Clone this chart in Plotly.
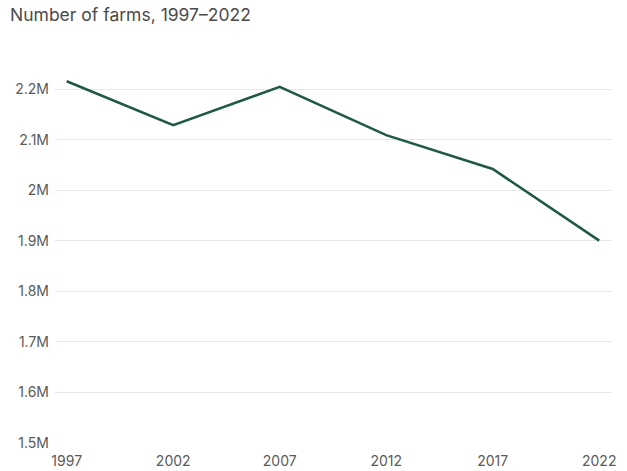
import plotly.graph_objects as go

years = [1997, 2002, 2007, 2012, 2017, 2022]
farms = [2215876, 2128982, 2204792, 2109303, 2042220, 1900487]
y_tickvals = [1500000, 1600000, 1700000, 1800000, 1900000, 2000000, 2100000, 2200000]
y_ticktext = ["1.5M", "1.6M", "1.7M", "1.8M", "1.9M", "2M", "2.1M", "2.2M"]
x_ticktext = ["1997", "2002", "2007", "2012", "2017", "2022"]

fig = go.Figure()
fig.add_trace(go.Scatter(x=years, y=farms, mode="lines",
                         line=dict(color="#1e5a43", width=2.5), hoverinfo="skip"))

fig.update_layout(
    width=627, height=471,
    margin=dict(l=55, r=15, t=64, b=28),
    paper_bgcolor="white", plot_bgcolor="white",
    showlegend=False,
    font=dict(family="Inter, Open Sans, sans-serif", color="#5a5a5a", size=14),
    title=dict(text="Number of farms, 1997–2022", x=0.016, xanchor="left",
               y=0.968, yanchor="middle",
               font=dict(size=17.5, color="#4a4a4a")),
    xaxis=dict(range=[1996.45, 2022.6], tickvals=years, ticktext=x_ticktext,
               showgrid=False, zeroline=False, showline=False, ticks="",
               ticklabelstandoff=8, automargin=False),
    yaxis=dict(range=[1500000, 2250000], tickvals=y_tickvals, ticktext=y_ticktext,
               showgrid=True, gridcolor="#e6e6e6", gridwidth=1, zeroline=False,
               showline=False, ticks="", ticklabelstandoff=5, automargin=False),
)

fig.write_html("out.html")
